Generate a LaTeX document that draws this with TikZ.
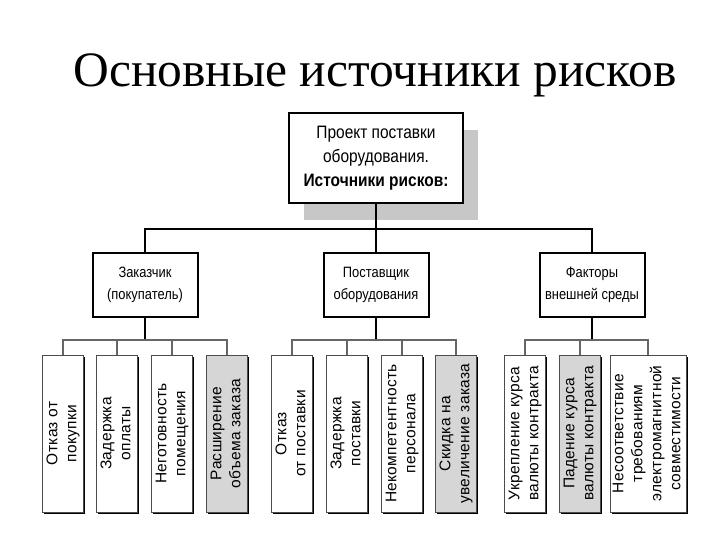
\documentclass[tikz,border=0pt]{standalone}
\usepackage{fontspec}
\setmainfont{Liberation Serif}
\newfontfamily\boxfont[FakeStretch=0.86]{Liberation Sans}
\newfontfamily\leaffont[LetterSpace=2]{Liberation Sans}
\usetikzlibrary{shadows}
\colorlet{linecol}{black}
\colorlet{buscol}{black!60}
\colorlet{shadecol}{black!22}
\colorlet{hilitecol}{black!16}
\tikzset{
  topbox/.style={draw=linecol, line width=2.4pt, fill=white,
    minimum width=174pt, minimum height=90pt, align=center,
    font=\boxfont\fontsize{18}{24}\selectfont,
    drop shadow={shadow xshift=15pt, shadow yshift=-17pt, fill=shadecol, opacity=1}},
  midbox/.style={draw=linecol, line width=2pt, fill=white,
    minimum width=105pt, minimum height=64pt, align=center,
    font=\boxfont\fontsize{15}{22}\selectfont},
  leafbox/.style={draw=black!70, line width=0.8pt, fill=white,
    minimum width=41pt, minimum height=157pt, inner sep=0pt,
    font=\leaffont\fontsize{15.5}{19}\selectfont,
    drop shadow={shadow xshift=1.6pt, shadow yshift=-1.6pt, fill=black, opacity=1}},
  hilite/.style={fill=hilitecol},
  conn/.style={draw=linecol, line width=1.6pt},
  bus/.style={draw=buscol, line width=1.4pt}
}
\newcommand{\vlabel}[1]{\rotatebox{90}{\begin{tabular}{@{}c@{}}#1\end{tabular}}}

\begin{document}
\begin{tikzpicture}[x=1pt, y=-1pt]

  \useasboundingbox (0,0) rectangle (720,540);

  % Title.
  \node[anchor=base, font=\fontsize{49.5}{58}\selectfont] (title) at (375,87)
    {Основные источники рисков};

  % Root box.
  \node[topbox] (root) at (376,158)
    {Проект поставки\\оборудования.\\\textbf{Источники рисков:}};

  % Second level.
  \node[midbox] (cust) at (145,285) {Заказчик\\(покупатель)};
  \node[midbox] (supp) at (376,285) {Поставщик\\оборудования};
  \node[midbox] (envr) at (592,285) {Факторы\\внешней среды};

  % Leaves -- customer.
  \node[leafbox] (c1) at (63,433.5) {\vlabel{Отказ от\\покупки}};
  \node[leafbox] (c2) at (117,433.5) {\vlabel{Задержка\\оплаты}};
  \node[leafbox] (c3) at (172,433.5) {\vlabel{Неготовность\\помещения}};
  \node[leafbox, hilite] (c4) at (227,433.5) {\vlabel{Расширение\\объема заказа}};

  % Leaves -- supplier.
  \node[leafbox] (s1) at (292,433.5) {\vlabel{Отказ\\от поставки}};
  \node[leafbox] (s2) at (347,433.5) {\vlabel{Задержка\\поставки}};
  \node[leafbox] (s3) at (402,433.5) {\vlabel{Некомпетентность\\персонала}};
  \node[leafbox, hilite] (s4) at (456,433.5) {\vlabel{Скидка на\\увеличение заказа}};

  % Leaves -- environment.
  \node[leafbox] (e1) at (525,433.5) {\vlabel{Укрепление курса\\валюты контракта}};
  \node[leafbox, hilite] (e2) at (580,433.5) {\vlabel{Падение курса\\валюты контракта}};
  \node[leafbox, minimum width=68pt] (e3) at (648,433.5)
    {\vlabel{Несоответствие\\требованиям\\электромагнитной\\совместимости}};

  % Connectors from the root.
  \coordinate (rootbus) at (376,229);
  \draw[conn] (root.south) -- (rootbus);
  \foreach \n in {cust,supp,envr} {
    \draw[conn] (rootbus) -| (\n.north);
  }

  % Connectors to the leaves.
  \draw[conn] (cust.south) -- ++(0,22) coordinate (custbus);
  \foreach \n in {c1,c2,c3,c4} {
    \draw[bus] (custbus) -| (\n.north);
  }
  \draw[conn] (supp.south) -- ++(0,22) coordinate (suppbus);
  \foreach \n in {s1,s2,s3,s4} {
    \draw[bus] (suppbus) -| (\n.north);
  }
  \draw[conn] (envr.south) -- ++(0,22) coordinate (envrbus);
  \foreach \n in {e1,e2,e3} {
    \draw[bus] (envrbus) -| (\n.north);
  }

\end{tikzpicture}
\end{document}
